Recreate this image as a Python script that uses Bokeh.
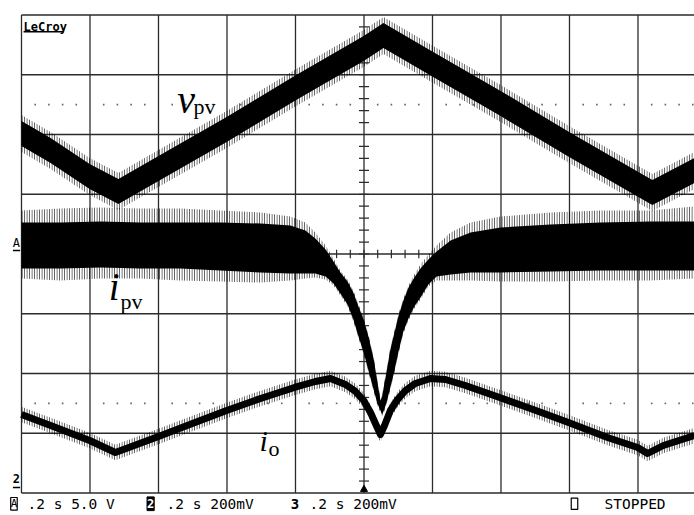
from bokeh.plotting import figure
from bokeh.models import Range1d
from bokeh.core.properties import value
from bokeh.embed import file_html
from bokeh.resources import INLINE

# ---------------- data (time in s, 0.2 s/div; amplitude in screen divisions from centre) ----
# v_pv  (channel A, 5.0 V/div)
vpv_t   = [0.000, 0.085, 0.199, 0.283, 0.400, 0.599, 0.797, 0.999, 1.057, 1.197, 1.399, 1.594, 1.796, 1.842, 1.965]
vpv_mid = [2.017, 1.732, 1.297, 1.046, 1.431, 2.084, 2.770, 3.439, 3.657, 3.188, 2.519, 1.849, 1.180, 1.029, 1.397]
VPV_CORE_PP = 0.42     # dense noise band, peak-to-peak (div)
VPV_SPIKE_PP = 0.62    # extent of noise spikes, peak-to-peak (div)

# i_pv  (channel 2, 200 mV/div) - noisy band, upper / lower envelopes
ipv_t = [0.000, 0.114, 0.231, 0.347, 0.464, 0.581, 0.698, 0.785, 0.829, 0.858,
         0.888, 0.911, 0.931, 0.952, 0.969, 0.984, 0.999, 1.013, 1.028, 1.039,
         1.048, 1.053, 1.057, 1.066, 1.077, 1.089, 1.101, 1.115, 1.130, 1.147,
         1.165, 1.188, 1.212, 1.253, 1.311, 1.399, 1.545, 1.691, 1.836, 1.965]
ipv_top = [0.527, 0.527, 0.544, 0.527, 0.527, 0.527, 0.510, 0.477, 0.393, 0.259,
           0.075, -0.126, -0.310, -0.460, -0.644, -0.879, -1.096, -1.381, -1.749, -2.134,
           -2.452, -2.385, -2.251, -1.967, -1.598, -1.314, -1.029, -0.778, -0.561, -0.393,
           -0.243, -0.092, 0.042, 0.226, 0.360, 0.444, 0.494, 0.527, 0.544, 0.544]
ipv_bot = [-0.243, -0.243, -0.226, -0.243, -0.243, -0.276, -0.310, -0.326, -0.326, -0.326,
           -0.377, -0.494, -0.661, -0.845, -1.096, -1.381, -1.649, -1.950, -2.268, -2.502,
           -2.619, -2.686, -2.636, -2.485, -2.234, -1.950, -1.632, -1.297, -1.079, -0.879,
           -0.728, -0.510, -0.377, -0.343, -0.310, -0.310, -0.293, -0.276, -0.276, -0.276]
ipv_spike_top = [0.728, 0.762, 0.778, 0.762, 0.762, 0.728, 0.695, 0.628, 0.527, 0.360,
                 0.142, -0.075, -0.276, -0.427, -0.611, -0.845, -1.063, -1.347, -1.715, -2.100,
                 -2.418, -2.351, -2.218, -1.933, -1.565, -1.280, -0.996, -0.745, -0.527, -0.343,
                 -0.176, -0.008, 0.142, 0.360, 0.527, 0.628, 0.695, 0.728, 0.728, 0.795]
ipv_spike_bot = [-0.410, -0.444, -0.410, -0.410, -0.444, -0.460, -0.477, -0.444, -0.410, -0.393,
                 -0.427, -0.527, -0.695, -0.879, -1.130, -1.414, -1.682, -1.983, -2.301, -2.536,
                 -2.653, -2.720, -2.669, -2.519, -2.268, -1.983, -1.665, -1.331, -1.113, -0.912,
                 -0.762, -0.544, -0.444, -0.444, -0.444, -0.460, -0.460, -0.444, -0.444, -0.410]

# i_o  (channel 3, 200 mV/div)
io_t   = [0.000, 0.085, 0.199, 0.274, 0.400, 0.499, 0.599, 0.698, 0.797, 0.858, 0.902,
          0.946, 0.975, 0.999, 1.019, 1.036, 1.048, 1.060, 1.077, 1.098, 1.121, 1.150,
          1.194, 1.238, 1.296, 1.396, 1.486, 1.597, 1.711, 1.799, 1.828, 1.874, 1.965]
io_mid = [-2.686, -2.870, -3.121, -3.322, -3.054, -2.837, -2.619, -2.418, -2.234, -2.134, -2.084,
          -2.184, -2.301, -2.452, -2.653, -2.870, -3.021, -2.870, -2.619, -2.435, -2.285, -2.167,
          -2.084, -2.100, -2.201, -2.402, -2.586, -2.820, -3.071, -3.238, -3.339, -3.205, -3.038]
IO_SPIKE_PP = 0.26

# screen settings
T_DIV = 0.2
N_XDIV = 10
N_YDIV = 8
status_labels = [".2 s 5.0 V", ".2 s 200mV", ".2 s 200mV", "STOPPED"]

# ---------------- figure ----------------
p = figure(width=694, height=515, output_backend="svg", toolbar_location=None,
           x_range=Range1d(-0.0613, 1.965), y_range=Range1d(-4.3766, 4.2427),
           x_axis_type=None, y_axis_type=None, min_border=0)
p.outline_line_color = None
p.xgrid.visible = False
p.ygrid.visible = False
p.background_fill_color = "white"
p.border_fill_color = "white"

GRID_C = "#2b2b2b"
half = N_YDIV / 2
# vertical grid lines (incl. left border)
vx = [k * T_DIV for k in range(N_XDIV + 1)]
p.segment(x0=vx, y0=[-half] * len(vx), x1=vx, y1=[half] * len(vx), line_color=GRID_C, line_width=1.3)
# horizontal grid lines (incl. top / bottom border)
hy = [k - half for k in range(N_YDIV + 1)]
p.segment(x0=[0] * len(hy), y0=hy, x1=[N_XDIV * T_DIV] * len(hy), y1=hy, line_color=GRID_C, line_width=1.3)

# centre-axis minor ticks
cx = N_XDIV * T_DIV / 2
ty = [-half + 0.2 * k for k in range(1, int(N_YDIV * 5))]
p.segment(x0=[cx - 0.0146] * len(ty), y0=ty, x1=[cx + 0.0146] * len(ty), y1=ty, line_color=GRID_C, line_width=1.2)
tx = [0.04 * k for k in range(1, N_XDIV * 5)]
p.segment(x0=tx, y0=[-0.07] * len(tx), x1=tx, y1=[0.07] * len(tx), line_color=GRID_C, line_width=1.2)

# dotted rows at +/-2.5 div
dx = [0.04 * k for k in range(1, N_XDIV * 5) if k % 5 != 0]
for yy in (2.5, -2.5):
    p.scatter(dx, [yy] * len(dx), marker="square", size=1.6, fill_color="#666666", line_color=None)

# ---------------- traces ----------------
HATCH = dict(fill_alpha=0, hatch_pattern="vertical_line", hatch_scale=2.5, hatch_weight=1,
             hatch_color="black", hatch_alpha=0.75)
# v_pv
p.varea(x=vpv_t, y1=[m - VPV_SPIKE_PP / 2 for m in vpv_mid], y2=[m + VPV_SPIKE_PP / 2 for m in vpv_mid], **HATCH)
p.varea(x=vpv_t, y1=[m - VPV_CORE_PP / 2 for m in vpv_mid], y2=[m + VPV_CORE_PP / 2 for m in vpv_mid],
        fill_color="black")

# i_pv
p.varea(x=ipv_t, y1=ipv_spike_bot, y2=ipv_spike_top, **HATCH)
p.varea(x=ipv_t, y1=ipv_bot, y2=ipv_top, fill_color="black")

# i_o
p.varea(x=io_t, y1=[m - IO_SPIKE_PP / 2 for m in io_mid], y2=[m + IO_SPIKE_PP / 2 for m in io_mid], **HATCH)
p.line(io_t, io_mid, line_color="black", line_width=7, line_join="round")

# ---------------- trace labels ----------------
SERIF = value("Liberation Serif")
p.text(x=[0.455], y=[2.585], text=["v"], text_font=SERIF, text_font_style="italic",
       text_font_size="40px", text_baseline="alphabetic", text_align="left", text_color="black")
p.text(x=[0.502], y=[2.468], text=["pv"], text_font=SERIF,
       text_font_size="22px", text_baseline="alphabetic", text_align="left", text_color="black")
p.text(x=[0.255], y=[-0.550], text=["i"], text_font=SERIF, text_font_style="italic",
       text_font_size="39px", text_baseline="alphabetic", text_align="left", text_color="black")
p.text(x=[0.289], y=[-0.800], text=["pv"], text_font=SERIF,
       text_font_size="22px", text_baseline="alphabetic", text_align="left", text_color="black")
p.text(x=[0.695], y=[-3.120], text=["i"], text_font=SERIF, text_font_style="italic",
       text_font_size="30px", text_baseline="alphabetic", text_align="left", text_color="black")
p.text(x=[0.721], y=[-3.255], text=["o"], text_font=SERIF,
       text_font_size="22px", text_baseline="alphabetic", text_align="left", text_color="black")

# ---------------- scope annotations ----------------
MONO = value("DejaVu Sans Mono")
# LeCroy logo
p.text(x=[0.006], y=[3.80], text=["LeCroy"], text_font=MONO, text_font_style="bold",
       text_font_size="12px", text_baseline="alphabetic", text_align="left", text_color="black")
p.segment(x0=[0.006], y0=[3.72], x1=[0.122], y1=[3.72], line_color="black", line_width=1.5)

# channel markers on the left edge
p.text(x=[-0.015], y=[0.19], text=["A"], text_font=MONO, text_font_size="12px",
       text_baseline="middle", text_align="center", text_color="black")
p.segment(x0=[-0.025], y0=[0.06], x1=[-0.004], y1=[0.06], line_color="black", line_width=1.5)
p.text(x=[-0.015], y=[-3.76], text=["2"], text_font=MONO, text_font_style="bold", text_font_size="12px",
       text_baseline="middle", text_align="center", text_color="black")
p.segment(x0=[-0.025], y0=[-3.91], x1=[-0.004], y1=[-3.91], line_color="black", line_width=1.5)

# trigger position marker
p.scatter([cx], [-3.94], marker="triangle", size=7, fill_color="black", line_color="black")

# status line
SY = -4.18
p.rect(x=[-0.022], y=[SY], width=0.019, height=0.21, fill_color="white", line_color="black", line_width=1.2)
p.text(x=[-0.022], y=[SY], text=["A"], text_font=MONO, text_font_size="11px",
       text_baseline="middle", text_align="center", text_color="black")
p.rect(x=[0.377], y=[SY], width=0.021, height=0.23, fill_color="black", line_color="black")
p.text(x=[0.377], y=[SY], text=["2"], text_font=MONO, text_font_style="bold", text_font_size="12px",
       text_baseline="middle", text_align="center", text_color="white")
p.text(x=[0.7985], y=[SY], text=["3"], text_font=MONO, text_font_style="bold", text_font_size="14px",
       text_baseline="middle", text_align="center", text_color="black")
p.rect(x=[1.6146], y=[SY], width=0.019, height=0.19, fill_color="white", line_color="black", line_width=1.2)
p.text(x=[0.0175, 0.4234, 0.8409, 1.7022], y=[SY] * 4, text=status_labels, text_font=MONO,
       text_font_size="14.5px", text_baseline="middle", text_align="left", text_color="black")

open("out.html", "w").write(file_html(p, INLINE))
